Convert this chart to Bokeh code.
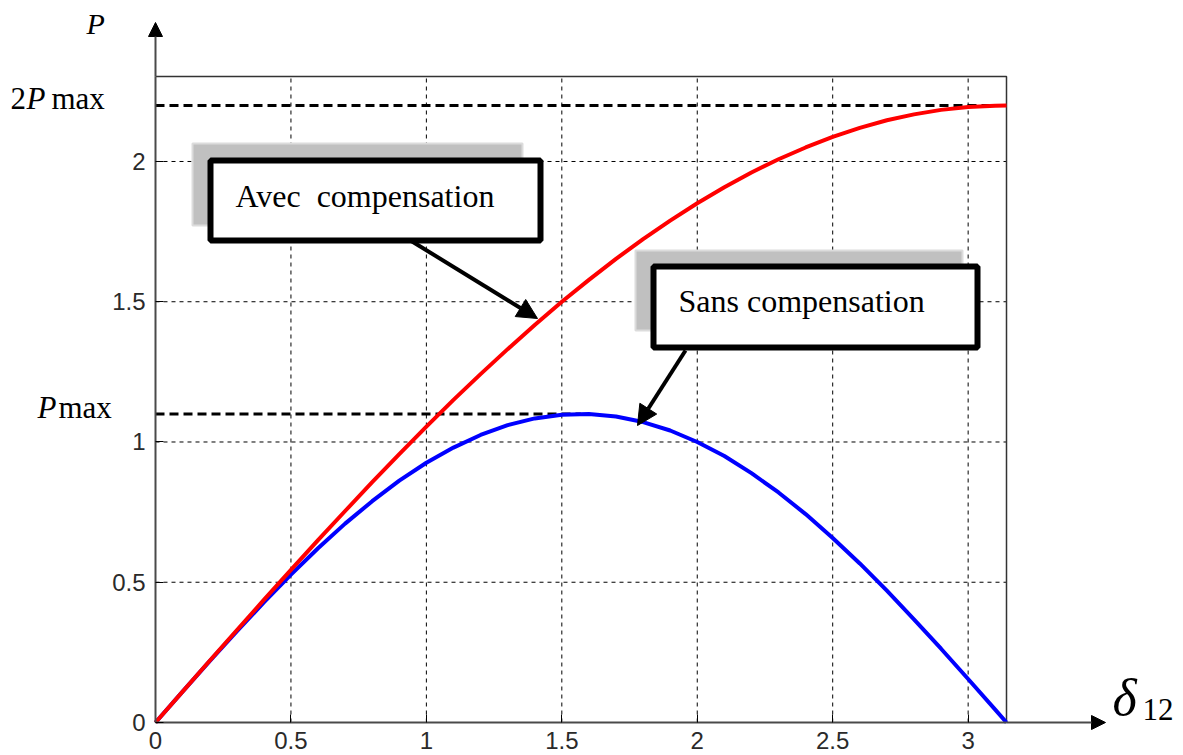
from bokeh.plotting import figure
from bokeh.models import Label, Arrow, NormalHead, Range1d
from bokeh.embed import file_html
from bokeh.resources import INLINE

# ---- data ----
delta = [0, 0.1, 0.2, 0.3, 0.4, 0.5, 0.6, 0.7, 0.8, 0.9, 1.0, 1.1, 1.2, 1.3, 1.4, 1.5,
         1.6, 1.7, 1.8, 1.9, 2.0, 2.1, 2.2, 2.3, 2.4, 2.5, 2.6, 2.7, 2.8, 2.9, 3.0, 3.1, 3.1416]
p_sans = [0, 0.110, 0.219, 0.325, 0.428, 0.527, 0.621, 0.709, 0.789, 0.862, 0.926, 0.980,
          1.025, 1.060, 1.084, 1.097, 1.100, 1.091, 1.071, 1.041, 1.000, 0.950, 0.889, 0.820,
          0.743, 0.658, 0.567, 0.470, 0.368, 0.263, 0.155, 0.046, 0.0]
p_avec = [0, 0.110, 0.220, 0.329, 0.437, 0.544, 0.650, 0.754, 0.857, 0.957, 1.055, 1.150,
          1.242, 1.331, 1.417, 1.500, 1.578, 1.653, 1.723, 1.789, 1.851, 1.908, 1.961, 2.008,
          2.050, 2.088, 2.120, 2.147, 2.168, 2.184, 2.194, 2.199, 2.200]
x_ticks = [0, 0.5, 1, 1.5, 2, 2.5, 3]
y_ticks = [0, 0.5, 1, 1.5, 2]
p_max = 1.1
p2_max = 2.2
p_max_end = 1.57
x_max = 3.1416
y_top = 2.303

# ---- pixel <-> data helpers for the layout ----
W, H = 1183, 755
LEFT = 155
BOT = 722
SX = 851 / x_max
SY = 646 / y_top


def dx(px):
    return (px - LEFT) / SX


def dy(py):
    return (BOT - py) / SY


p = figure(width=W, height=H,
           x_range=Range1d(dx(0), dx(W)), y_range=Range1d(dy(H), dy(0)),
           output_backend="svg", toolbar_location=None,
           min_border=0, min_border_left=0, min_border_right=0,
           min_border_top=0, min_border_bottom=0)
p.outline_line_color = None
p.xgrid.visible = False
p.ygrid.visible = False
p.background_fill_color = "white"
p.border_fill_color = "white"

AX_COL = "#4a4a4a"
for ax, ticks, bnd in ((p.xaxis, x_ticks, (0, x_max)), (p.yaxis, y_ticks, (0, y_top))):
    ax.fixed_location = 0
    ax.ticker = ticks
    ax.bounds = bnd
    ax.major_label_overrides = {t: f"{t:g}" for t in ticks}
    ax.axis_line_color = AX_COL
    ax.axis_line_width = 2
    ax.major_tick_in = 8
    ax.major_tick_out = 0
    ax.major_tick_line_color = "black"
    ax.minor_tick_line_color = None
    ax.major_label_text_font = "Liberation Sans"
    ax.major_label_text_font_size = "24px"
    ax.major_label_text_color = "#2a2a2a"
p.xaxis.major_label_standoff = 9
p.yaxis.major_label_standoff = 10

# grid (dashed) from tick lists
vx = x_ticks[1:]
p.segment(x0=vx, y0=[0] * len(vx), x1=vx, y1=[y_top] * len(vx),
          line_color="black", line_width=1, line_dash="4 4")
hy = y_ticks[1:]
p.segment(x0=[0] * len(hy), y0=hy, x1=[x_max] * len(hy), y1=hy,
          line_color="black", line_width=1, line_dash="4 4")

# frame top/right borders
p.line([0, x_max, x_max], [y_top, y_top, 0], line_color="#333333", line_width=1.5)

# axis extensions with arrow heads
p.add_layout(Arrow(x_start=0, y_start=y_top, x_end=0, y_end=dy(22),
                   line_color=AX_COL, line_width=2,
                   end=NormalHead(size=14, fill_color="black", line_color="black")))
p.add_layout(Arrow(x_start=x_max, y_start=0, x_end=dx(1105), y_end=0,
                   line_color=AX_COL, line_width=2,
                   end=NormalHead(size=14, fill_color="black", line_color="black")))

# reference dashed lines
p.line([0, x_max], [p2_max, p2_max], line_color="black", line_width=3, line_dash="9 5")
p.line([0, p_max_end], [p_max, p_max], line_color="black", line_width=3, line_dash="9 5")

# curves
p.line(delta, p_sans, line_color="#0000ff", line_width=4)
p.line(delta, p_avec, line_color="#ff0000", line_width=4)

SERIF = "Liberation Serif"

# callout boxes
boxes = [
    ((192, 522, 143, 225), (210, 540, 160, 240), "Avec\u00a0 compensation", (235, 195), ((410, 240), (537, 318))),
    ((635, 962, 250, 330), (653, 977, 266, 347), "Sans compensation", (678, 300), ((685, 350), (637, 425))),
]
for sh, bx, txt, tpos, arr in boxes:
    p.quad(left=[dx(sh[0])], right=[dx(sh[1])], top=[dy(sh[2])], bottom=[dy(sh[3])],
           fill_color="#c0c0c0", line_color="#dcdcdc", line_width=2)
    p.quad(left=[dx(bx[0])], right=[dx(bx[1])], top=[dy(bx[2])], bottom=[dy(bx[3])],
           fill_color="white", line_color="black", line_width=6)
    p.add_layout(Label(x=dx(tpos[0]), y=dy(tpos[1]), text=txt, text_font=SERIF,
                       text_font_size="32px", text_color="black", text_baseline="middle"))
    (sx0, sy0), (sx1, sy1) = arr
    p.add_layout(Arrow(x_start=dx(sx0), y_start=dy(sy0), x_end=dx(sx1), y_end=dy(sy1),
                       line_color="black", line_width=4,
                       end=NormalHead(size=20, fill_color="black", line_color="black")))


# axis-side labels (y given as visual baseline in pixels)
def lab(px, py, text, size="30px", style="normal"):
    p.add_layout(Label(x=dx(px), y=dy(py - 10), text=text, text_font=SERIF, text_font_size=size,
                       text_font_style=style, text_color="black", text_baseline="alphabetic"))


lab(86, 33, "P", style="italic")
lab(10, 108, "2", size="31px")
lab(26, 108, "P", size="31px", style="italic")
lab(51, 108, "max", size="31px")
lab(37, 417, "P", size="31px", style="italic")
lab(58, 417, "max", size="31px")
lab(1112, 707, "δ", size="52px", style="italic")
lab(1142, 719, "12", size="31px")

open("out.html", "w").write(file_html(p, INLINE))
